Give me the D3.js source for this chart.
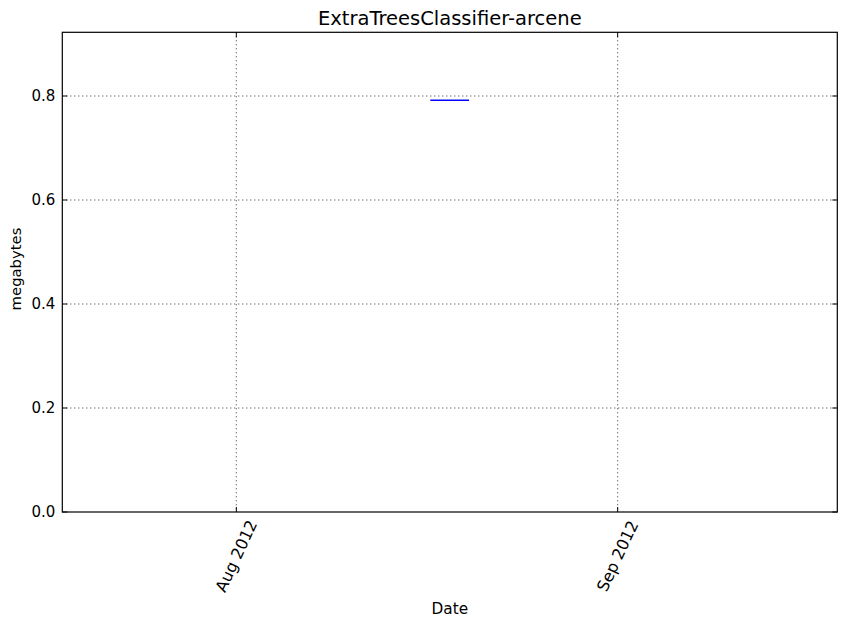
<!DOCTYPE html>
<html><head><meta charset="utf-8">
<script src="https://cdn.jsdelivr.net/npm/d3@7"></script>
<style>body{margin:0;background:#fff;} text{font-family:"DejaVu Sans",sans-serif;}</style>
</head><body>
<svg id="c" width="846" height="624"></svg>
<script>
const title = "ExtraTreesClassifier-arcene";
const xLabel = "Date";
const yLabel = "megabytes";
const dates = ["2012-08-16T18:30:00", "2012-08-19T22:00:00"];
const values = [0.792, 0.792];
const xDomain = ["2012-07-17T20:30:00", "2012-09-18T20:30:00"];
const yDomain = [0, 0.9225];
const xTicks = ["2012-08-01T00:00:00", "2012-09-01T00:00:00"];
const xTickLabels = ["Aug 2012", "Sep 2012"];
const yTicks = [0.0, 0.2, 0.4, 0.6, 0.8];

const parse = d3.isoParse;
const svg = d3.select("#c");
const L = 62.3, R = 837.3, T = 32.3, B = 512;
const x = d3.scaleTime().domain(xDomain.map(parse)).range([L, R]);
const y = d3.scaleLinear().domain(yDomain).range([B, T]);

// grid
const g = svg.append("g");
xTicks.forEach(t => {
  g.append("line").attr("x1", x(parse(t))).attr("x2", x(parse(t))).attr("y1", T).attr("y2", B)
    .attr("stroke", "#000").attr("stroke-width", 0.8).attr("stroke-dasharray", "1,3");
});
yTicks.forEach(t => {
  if (t === 0) return;
  g.append("line").attr("x1", L).attr("x2", R).attr("y1", y(t)).attr("y2", y(t))
    .attr("stroke", "#000").attr("stroke-width", 0.8).attr("stroke-dasharray", "1,3");
});

// data line
const line = d3.line().x((d, i) => x(parse(dates[i]))).y(d => y(d));
svg.append("path").datum(values).attr("d", line).attr("fill", "none")
  .attr("stroke", "#0000ff").attr("stroke-width", 1.5);

// ticks (inward, all sides)
const tl = 5;
xTicks.forEach((t, i) => {
  const px = x(parse(t));
  svg.append("line").attr("x1", px).attr("x2", px).attr("y1", B).attr("y2", B - tl).attr("stroke", "#000");
  svg.append("line").attr("x1", px).attr("x2", px).attr("y1", T).attr("y2", T + tl).attr("stroke", "#000");
  svg.append("text").attr("transform", `translate(${px},556) rotate(-65)`)
    .attr("text-anchor", "middle").attr("dominant-baseline", "central")
    .attr("font-size", 16).text(xTickLabels[i]);
});
yTicks.forEach(t => {
  const py = y(t);
  svg.append("line").attr("x1", L).attr("x2", L + tl).attr("y1", py).attr("y2", py).attr("stroke", "#000");
  svg.append("line").attr("x1", R).attr("x2", R - tl).attr("y1", py).attr("y2", py).attr("stroke", "#000");
  svg.append("text").attr("x", L - 7).attr("y", py).attr("text-anchor", "end")
    .attr("dominant-baseline", "central").attr("font-size", 15).text(t.toFixed(1));
});

// frame
svg.append("rect").attr("x", L).attr("y", T).attr("width", R - L).attr("height", B - T)
  .attr("fill", "none").attr("stroke", "#000").attr("stroke-width", 1.2);

svg.append("text").attr("x", (L + R) / 2).attr("y", 25).attr("text-anchor", "middle")
  .attr("font-size", 19.5).text(title);
svg.append("text").attr("x", (L + R) / 2).attr("y", 614).attr("text-anchor", "middle")
  .attr("font-size", 15.3).text(xLabel);
svg.append("text").attr("transform", `translate(21,269) rotate(-90)`)
  .attr("text-anchor", "middle").attr("font-size", 14.8).text(yLabel);
</script>
</body></html>
